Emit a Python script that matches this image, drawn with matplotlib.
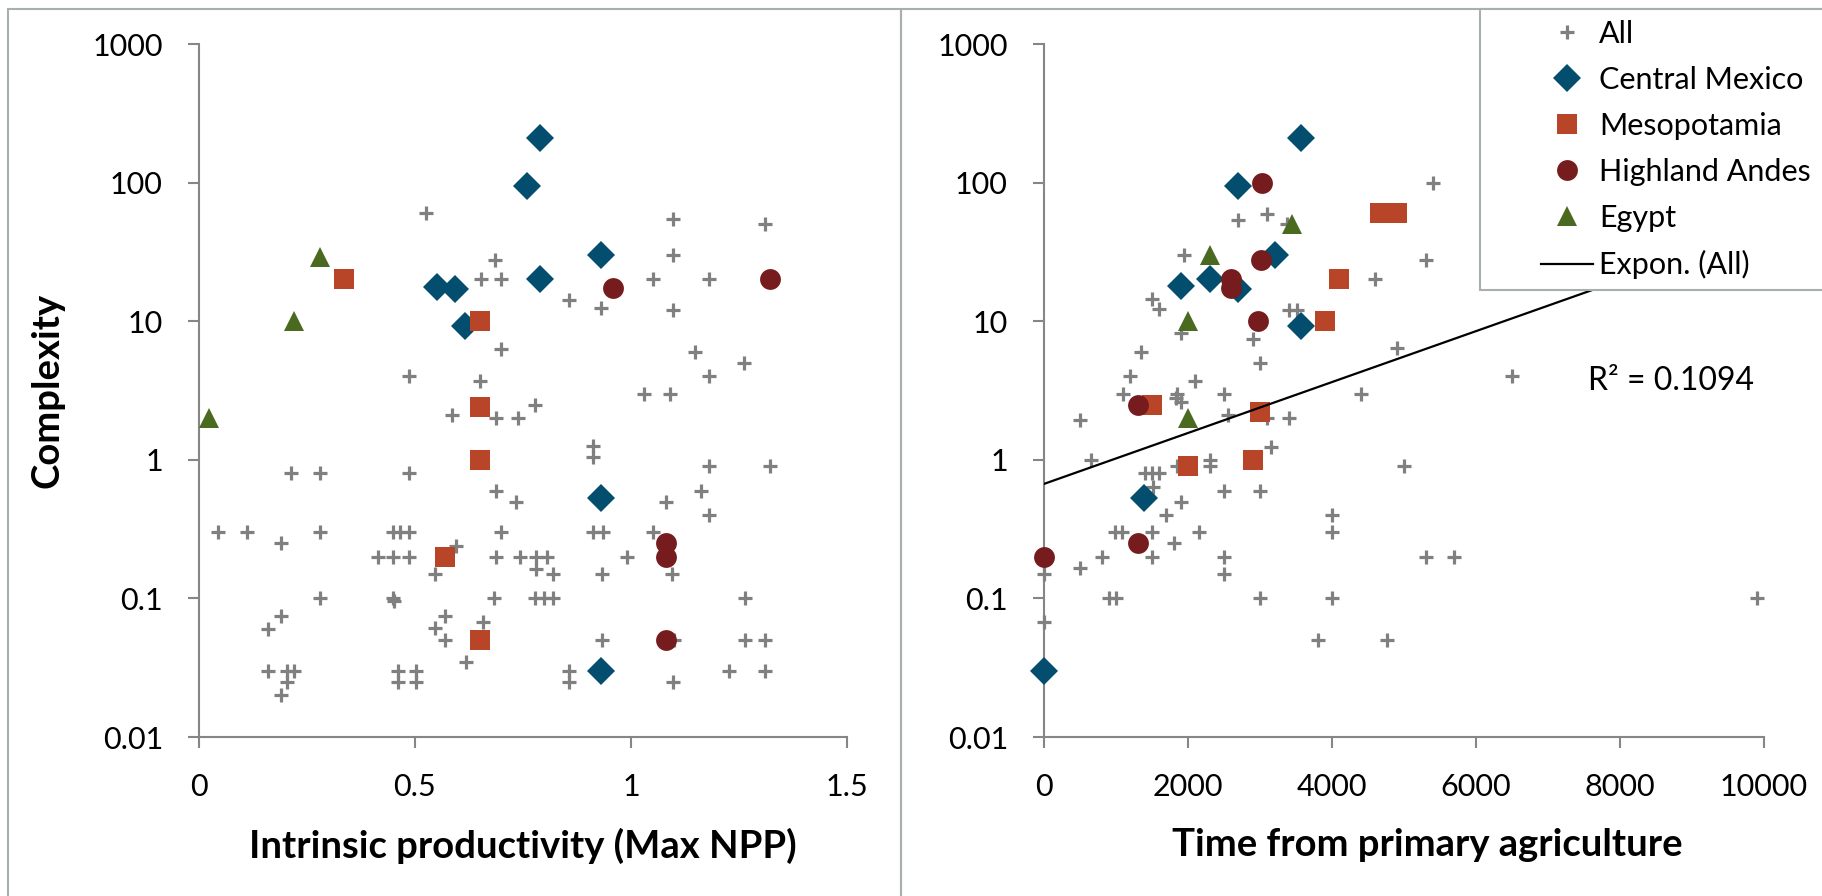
"""Complexity vs productivity and time from primary agriculture (two log panels)."""
import matplotlib
matplotlib.use("Agg")
import matplotlib.pyplot as plt
import numpy as np
from matplotlib.patches import Rectangle

plt.rcParams["font.family"] = ["Lato", "DejaVu Sans"]

# ---- left panel: intrinsic productivity (Max NPP) ----
ALL_NPP = [0.525, 0.685, 0.652, 0.698, 0.856, 0.93, 0.700, 0.487, 0.651, 0.586,
           0.688, 0.738, 0.778, 0.911, 0.911, 0.213, 0.281, 0.485, 0.688, 0.734,
           0.043, 0.110, 0.19, 0.281, 0.448, 0.465, 0.487, 0.70, 0.911, 0.936,
           0.596, 0.414, 0.450, 0.487, 0.688, 0.743, 0.780, 0.805, 0.781, 0.820,
           0.547, 0.932, 0.281, 0.448, 0.452, 0.684, 0.778, 0.799, 0.820, 0.19,
           0.160, 0.569, 0.546, 0.569, 0.658, 0.617, 0.160, 0.203, 0.221, 0.203,
           0.19, 0.461, 0.503, 0.461, 0.503, 0.856, 0.856, 1.098, 1.311, 1.098,
           1.05, 1.181, 1.098, 1.147, 1.262, 1.181, 1.029, 1.090, 1.18, 1.322,
           1.163, 1.081, 1.181, 1.05, 0.99, 1.096, 1.265, 0.932, 1.10, 1.265,
           1.311, 1.227, 1.311, 1.098]
ALL_NPP_CPLX = [60, 27.5, 20, 20, 14.3, 12.4, 6.3, 4.0, 3.7, 2.1,
                2.0, 2.0, 2.5, 1.25, 1.05, 0.8, 0.8, 0.8, 0.6, 0.5,
                0.3, 0.3, 0.25, 0.3, 0.3, 0.3, 0.3, 0.3, 0.3, 0.3,
                0.24, 0.2, 0.2, 0.2, 0.2, 0.2, 0.2, 0.2, 0.163, 0.15,
                0.15, 0.15, 0.1, 0.1, 0.095, 0.1, 0.1, 0.1, 0.1, 0.075,
                0.06, 0.075, 0.061, 0.05, 0.068, 0.035, 0.03, 0.03, 0.03, 0.025,
                0.02, 0.03, 0.03, 0.025, 0.025, 0.03, 0.025, 55, 50, 30,
                20, 20, 12, 6.0, 5.0, 4.0, 3.0, 3.0, 0.9, 0.9,
                0.6, 0.5, 0.4, 0.3, 0.2, 0.15, 0.1, 0.05, 0.05, 0.05,
                0.05, 0.03, 0.03, 0.025]

MEX_NPP = [0.79, 0.76, 0.93, 0.552, 0.593, 0.79, 0.616, 0.93, 0.93]
MEX_NPP_CPLX = [210, 95, 30, 17.7, 17.2, 20, 9.2, 0.53, 0.03]
MESO_NPP = [0.335, 0.651, 0.651, 0.651, 0.569, 0.651]
MESO_NPP_CPLX = [20, 10, 2.4, 1.0, 0.2, 0.05]
ANDES_NPP = [0.958, 1.322, 1.081, 1.081, 1.081]
ANDES_NPP_CPLX = [17.5, 20, 0.25, 0.2, 0.05]
EGYPT_NPP = [0.281, 0.22, 0.022]
EGYPT_NPP_CPLX = [29, 10, 2.0]

# ---- right panel: time from primary agriculture ----
ALL_TIME = [5400, 2700, 3100, 3370, 1950, 5300, 4600, 1500, 1600, 3400,
            3510, 1900, 2900, 1350, 3000, 4900, 1190, 2100, 6500, 1100,
            500, 1850, 1840, 1900, 2500, 2550, 3100, 3400, 4400, 3150,
            650, 2300, 2300, 1850, 5000, 1400, 1500, 1600, 1510, 1900,
            2500, 3000, 1700, 4000, 4000, 990, 1080, 1500, 2150, 1800,
            800, 1500, 2500, 2500, 5300, 5700, 500, 0, 900, 1000,
            3000, 4000, 0, 3800, 4770, 9900]
ALL_TIME_CPLX = [100, 54, 59, 50, 30, 27.5, 20, 14.5, 12.3, 12,
                 12, 8.2, 7.4, 6.0, 5.0, 6.4, 4.0, 3.7, 4.0, 3.0,
                 1.95, 3.0, 2.8, 2.6, 3.0, 2.1, 2.0, 2.0, 3.0, 1.23,
                 1.0, 1.0, 0.9, 0.9, 0.9, 0.8, 0.8, 0.8, 0.64, 0.5,
                 0.6, 0.6, 0.4, 0.4, 0.3, 0.3, 0.3, 0.3, 0.3, 0.25,
                 0.2, 0.2, 0.2, 0.15, 0.2, 0.2, 0.165, 0.15, 0.1, 0.1,
                 0.1, 0.1, 0.068, 0.05, 0.05, 0.1]

MEX_TIME = [3570, 2700, 3210, 1900, 2300, 2700, 3570, 1390, 0]
MEX_TIME_CPLX = [210, 95, 30, 18, 20, 17, 9.2, 0.53, 0.03]
MESO_TIME = [4670, 4900, 4100, 3900, 1500, 3000, 2000, 2900]
MESO_TIME_CPLX = [60, 60, 20, 10, 2.5, 2.2, 0.9, 1.0]
ANDES_TIME = [3030, 3020, 2600, 2600, 2970, 1300, 1300, 0]
ANDES_TIME_CPLX = [100, 27.5, 20, 17.5, 10, 2.5, 0.25, 0.2]
EGYPT_TIME = [3450, 2300, 2000, 2000]
EGYPT_TIME_CPLX = [50, 30, 10, 2.0]

# exponential trend of "All" on the right panel, y = a * exp(b * x)
TREND_A = 0.67
TREND_B = 4.23e-4
R2 = 0.1094

REGIONS = ["Central Mexico", "Mesopotamia", "Highland Andes", "Egypt"]
STYLE = {
    "All": dict(marker="+", color="#808080", ms=9.5, mew=2.3),
    "Central Mexico": dict(marker="D", color="#034E6F", ms=14, mew=0),
    "Mesopotamia": dict(marker="s", color="#B84527", ms=14.5, mew=0),
    "Highland Andes": dict(marker="o", color="#761B1E", ms=15, mew=0),
    "Egypt": dict(marker="^", color="#4A6A1F", ms=15, mew=0),
}
AXIS_GRAY = "#868686"
FRAME_GRAY = "#A7B0AE"

W, H = 1822, 896
fig = plt.figure(figsize=(W / 100, H / 100), dpi=100)
ax1 = fig.add_axes([199 / W, 1 - 737 / H, 648 / W, 693 / H])
ax2 = fig.add_axes([1044 / W, 1 - 737 / H, 720 / W, 693 / H])


def draw(ax, series):
    handles = []
    for name, xs, ys in series:
        (h,) = ax.plot(xs, ys, ls="none", clip_on=False, zorder=3 if name == "All" else 4,
                       label=name, **STYLE[name])
        handles.append(h)
    return handles


draw(ax1, [
    ("All", ALL_NPP, ALL_NPP_CPLX),
    ("Central Mexico", MEX_NPP, MEX_NPP_CPLX),
    ("Mesopotamia", MESO_NPP, MESO_NPP_CPLX),
    ("Highland Andes", ANDES_NPP, ANDES_NPP_CPLX),
    ("Egypt", EGYPT_NPP, EGYPT_NPP_CPLX),
])
handles = draw(ax2, [
    ("All", ALL_TIME, ALL_TIME_CPLX),
    ("Central Mexico", MEX_TIME, MEX_TIME_CPLX),
    ("Mesopotamia", MESO_TIME, MESO_TIME_CPLX),
    ("Highland Andes", ANDES_TIME, ANDES_TIME_CPLX),
    ("Egypt", EGYPT_TIME, EGYPT_TIME_CPLX),
])

tx = np.linspace(min(ALL_TIME), max(ALL_TIME), 200)
(trend,) = ax2.plot(tx, TREND_A * np.exp(TREND_B * tx), color="black", lw=1.6, zorder=5)
ax2.text(0.7556, 0.514, f"R² = {R2:.4f}", transform=ax2.transAxes,
         fontsize=23, ha="left", va="center")

for ax in (ax1, ax2):
    ax.set_yscale("log")
    ax.set_ylim(0.01, 1000)
    ax.set_yticks([0.01, 0.1, 1, 10, 100, 1000])
    ax.set_yticklabels(["0.01", "0.1", "1", "10", "100", "1000"])
    ax.minorticks_off()
    for side in ("top", "right"):
        ax.spines[side].set_visible(False)
    for side in ("left", "bottom"):
        ax.spines[side].set_color(AXIS_GRAY)
        ax.spines[side].set_linewidth(1.5)
    ax.tick_params(axis="both", which="major", direction="out", length=8,
                   width=1.5, color=AXIS_GRAY, labelsize=22, pad=18)
    ax.set_facecolor("none")

ax1.set_xlim(0, 1.5)
ax1.set_xticks([0, 0.5, 1, 1.5])
ax1.set_xticklabels(["0", "0.5", "1", "1.5"])
ax2.set_xlim(0, 10000)
ax2.set_xticks(range(0, 10001, 2000))

ax1.set_xlabel("Intrinsic productivity (Max NPP)", fontsize=27.5, fontweight="bold", labelpad=19)
ax2.set_xlabel("Time from primary agriculture", fontsize=27.5, fontweight="bold", labelpad=19)
ax2.xaxis.label.set_x(0.532)
ax1.set_ylabel("Complexity", fontsize=27.5, fontweight="bold", labelpad=20)

# chart-area borders
fig.add_artist(Rectangle((8 / W, -0.05), (901 - 8) / W, 1.05 - 9 / H, transform=fig.transFigure,
                         fill=False, edgecolor=FRAME_GRAY, lw=1.5))
fig.add_artist(Rectangle((901 / W, -0.05), 0.6, 1.05 - 9 / H, transform=fig.transFigure,
                         fill=False, edgecolor=FRAME_GRAY, lw=1.5))
# legend box (covers the trend line)
fig.add_artist(Rectangle((1480 / W, 1 - 290 / H), 0.3, (290 - 9) / H, transform=fig.transFigure,
                         facecolor="white", edgecolor=FRAME_GRAY, lw=1.5, zorder=4))

labels = ["All"] + REGIONS + ["Expon. (All)"]
fig.legend(handles + [trend], labels, loc="upper left",
           bbox_to_anchor=(1541 / W, 1 - 20 / H), frameon=False, fontsize=22,
           borderpad=0, borderaxespad=0, handlelength=1.7, handletextpad=0.2,
           labelspacing=0.59, numpoints=1)

fig.savefig("out.png", dpi=100)
